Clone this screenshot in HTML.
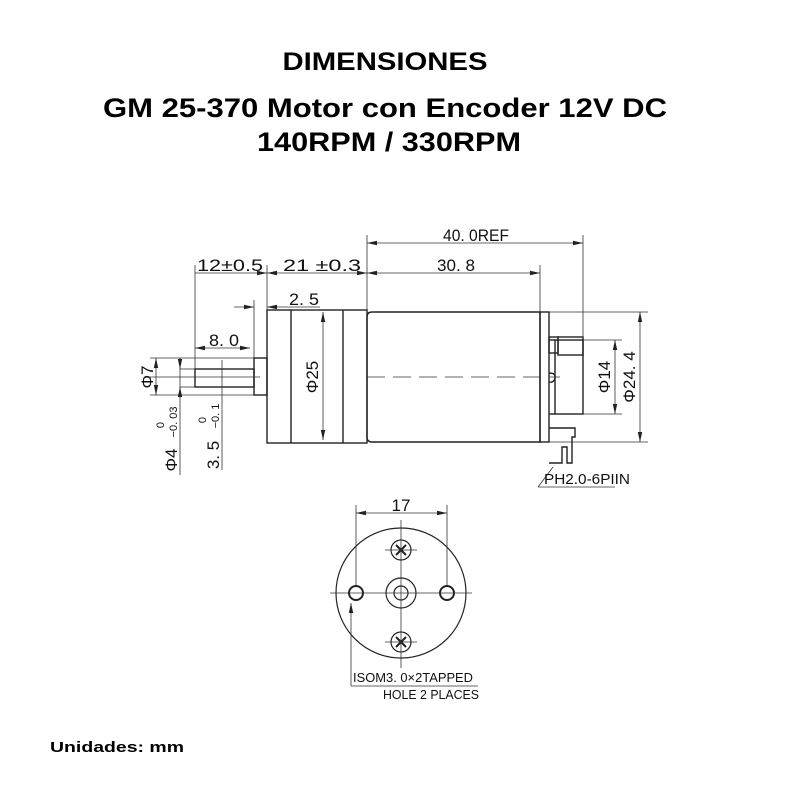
<!DOCTYPE html>
<html><head><meta charset="utf-8"><style>body{margin:0;background:#fff}svg{display:block}</style></head><body>
<svg width="800" height="800" viewBox="0 0 800 800" xmlns="http://www.w3.org/2000/svg">
<defs><marker id="a" viewBox="0 0 10 6" refX="10" refY="3" markerWidth="10" markerHeight="6" orient="auto-start-reverse" markerUnits="userSpaceOnUse"><path d="M0,0.8L10,3L0,5.2z" fill="#222"/></marker></defs>
<g font-family="Liberation Sans, sans-serif" font-weight="bold" fill="#000" text-anchor="middle">
<text x="385" y="70" font-size="25" textLength="205" lengthAdjust="spacingAndGlyphs">DIMENSIONES</text>
<text x="385" y="117" font-size="27" textLength="564" lengthAdjust="spacingAndGlyphs">GM 25-370 Motor con Encoder 12V DC</text>
<text x="389" y="151" font-size="27" textLength="264" lengthAdjust="spacingAndGlyphs">140RPM / 330RPM</text>
<text x="50" y="752" font-size="15" text-anchor="start" textLength="134" lengthAdjust="spacingAndGlyphs">Unidades: mm</text>
</g>
<g stroke="#222" fill="none" stroke-width="1.4">
<rect x="267" y="310" width="100" height="133"/>
<line x1="291" y1="310" x2="291" y2="443"/><line x1="343" y1="310" x2="343" y2="443"/>
<rect x="254" y="358" width="13" height="37"/>
<rect x="195" y="369" width="59" height="18"/>
<path d="M372,312H540V442H372Q367,442 367,437V317Q367,312 372,312Z"/>
<rect x="540" y="312" width="9" height="130"/>
<rect x="555" y="340" width="28" height="74"/>
<line x1="549" y1="340" x2="555" y2="340"/><line x1="549" y1="414" x2="555" y2="414"/>
<rect x="549" y="337" width="9" height="16"/><rect x="558" y="337" width="25" height="18"/>
<path d="M549,428H575V437H572V463H567V447H562V463H549"/>
<path d="M549,373Q556,373 555,378Q554,383 549,382"/>
</g>
<g stroke="#333" fill="none" stroke-width="0.8">
<line x1="150" y1="377" x2="260" y2="377"/>
<line x1="367" y1="377" x2="560" y2="377" stroke-dasharray="18,8"/>
<line x1="195" y1="265" x2="195" y2="369"/>
<line x1="267" y1="265" x2="267" y2="310"/>
<line x1="367" y1="235" x2="367" y2="310"/>
<line x1="583" y1="235" x2="583" y2="337"/>
<line x1="540" y1="265" x2="540" y2="312"/>
<line x1="254" y1="300" x2="254" y2="358"/>
<line x1="549" y1="312" x2="648" y2="312"/><line x1="549" y1="442" x2="648" y2="442"/>
<line x1="583" y1="340" x2="622" y2="340"/><line x1="583" y1="414" x2="622" y2="414"/>
<line x1="150" y1="358" x2="254" y2="358"/><line x1="150" y1="395" x2="254" y2="395"/>
<line x1="180" y1="369" x2="195" y2="369"/><line x1="180" y1="387" x2="195" y2="387"/>
<line x1="195" y1="273" x2="267" y2="273" marker-end="url(#a)"/>
<line x1="267" y1="273" x2="367" y2="273" marker-start="url(#a)" marker-end="url(#a)"/>
<line x1="367" y1="243" x2="583" y2="243" marker-start="url(#a)" marker-end="url(#a)"/>
<line x1="367" y1="273" x2="540" y2="273" marker-start="url(#a)" marker-end="url(#a)"/>
<line x1="234" y1="307" x2="254" y2="307" marker-end="url(#a)"/>
<line x1="320" y1="307" x2="267" y2="307" marker-end="url(#a)"/>
<line x1="195" y1="348" x2="250" y2="348" marker-start="url(#a)" marker-end="url(#a)"/>
<line x1="156" y1="358" x2="156" y2="395" marker-start="url(#a)" marker-end="url(#a)"/>
<line x1="180" y1="358" x2="180" y2="475"/>
<line x1="180" y1="358" x2="180" y2="369" marker-end="url(#a)"/>
<line x1="180" y1="398" x2="180" y2="387" marker-end="url(#a)"/>
<line x1="222" y1="360" x2="222" y2="470"/>
<line x1="323" y1="312" x2="323" y2="440" marker-start="url(#a)" marker-end="url(#a)"/>
<line x1="615" y1="340" x2="615" y2="414" marker-start="url(#a)" marker-end="url(#a)"/>
<line x1="640" y1="312" x2="640" y2="442" marker-start="url(#a)" marker-end="url(#a)"/>
<path d="M538,487L553,467M538,487H615"/>
</g>
<g font-family="Liberation Sans, sans-serif" font-size="17" fill="#111" text-anchor="middle">
<text x="230" y="271" textLength="66" lengthAdjust="spacingAndGlyphs">12±0.5</text>
<text x="322" y="271" textLength="78" lengthAdjust="spacingAndGlyphs">21 ±0.3</text>
<text x="476" y="241" textLength="66" lengthAdjust="spacingAndGlyphs">40. 0REF</text>
<text x="456" y="271" textLength="38" lengthAdjust="spacingAndGlyphs">30. 8</text>
<text x="304" y="305" textLength="30" lengthAdjust="spacingAndGlyphs">2. 5</text>
<text x="224" y="346" textLength="30" lengthAdjust="spacingAndGlyphs">8. 0</text>
<text x="587" y="484" font-size="15" textLength="86" lengthAdjust="spacingAndGlyphs">PH2.0-6PIIN</text>
<text transform="translate(153,377) rotate(-90)">Φ7</text>
<text transform="translate(318,377) rotate(-90)">Φ25</text>
<text transform="translate(610,377) rotate(-90)">Φ14</text>
<text transform="translate(635,377) rotate(-90)">Φ24. 4</text>
<text transform="translate(177,460) rotate(-90)">Φ4</text>
<text transform="translate(164,425) rotate(-90)" font-size="11">0</text>
<text transform="translate(177,422) rotate(-90)" font-size="11">−0. 03</text>
<text transform="translate(219,455) rotate(-90)">3. 5</text>
<text transform="translate(206,420) rotate(-90)" font-size="11">0</text>
<text transform="translate(219,416) rotate(-90)" font-size="11">−0. 1</text>
<text x="401" y="511">17</text>
<text x="413" y="682" font-size="13" textLength="120" lengthAdjust="spacingAndGlyphs">ISOM3. 0×2TAPPED</text>
<text x="431" y="699" font-size="13" textLength="96" lengthAdjust="spacingAndGlyphs">HOLE 2 PLACES</text>
</g>
<g stroke="#222" fill="none" stroke-width="1.2">
<circle cx="401" cy="593" r="65"/>
<circle cx="401" cy="593" r="15"/><circle cx="401" cy="593" r="7"/>
<circle cx="356" cy="593" r="7" stroke-width="2"/><circle cx="447" cy="593" r="7" stroke-width="2"/>
<circle cx="401" cy="550" r="10"/><circle cx="401" cy="642" r="10"/>
<path d="M396,545l10,10M406,545l-10,10M396,637l10,10M406,637l-10,10" stroke-width="2"/>
</g>
<g stroke="#333" fill="none" stroke-width="0.8">
<line x1="330" y1="593" x2="472" y2="593"/>
<line x1="401" y1="520" x2="401" y2="668"/>
<line x1="385" y1="550" x2="417" y2="550"/><line x1="385" y1="642" x2="417" y2="642"/>
<line x1="356" y1="505" x2="356" y2="585"/><line x1="447" y1="505" x2="447" y2="585"/>
<line x1="356" y1="513" x2="447" y2="513" marker-start="url(#a)" marker-end="url(#a)"/>
<line x1="351" y1="686" x2="351" y2="603" marker-end="url(#a)"/>
<line x1="351" y1="686" x2="478" y2="686"/>
</g>
</svg>
</body></html>
